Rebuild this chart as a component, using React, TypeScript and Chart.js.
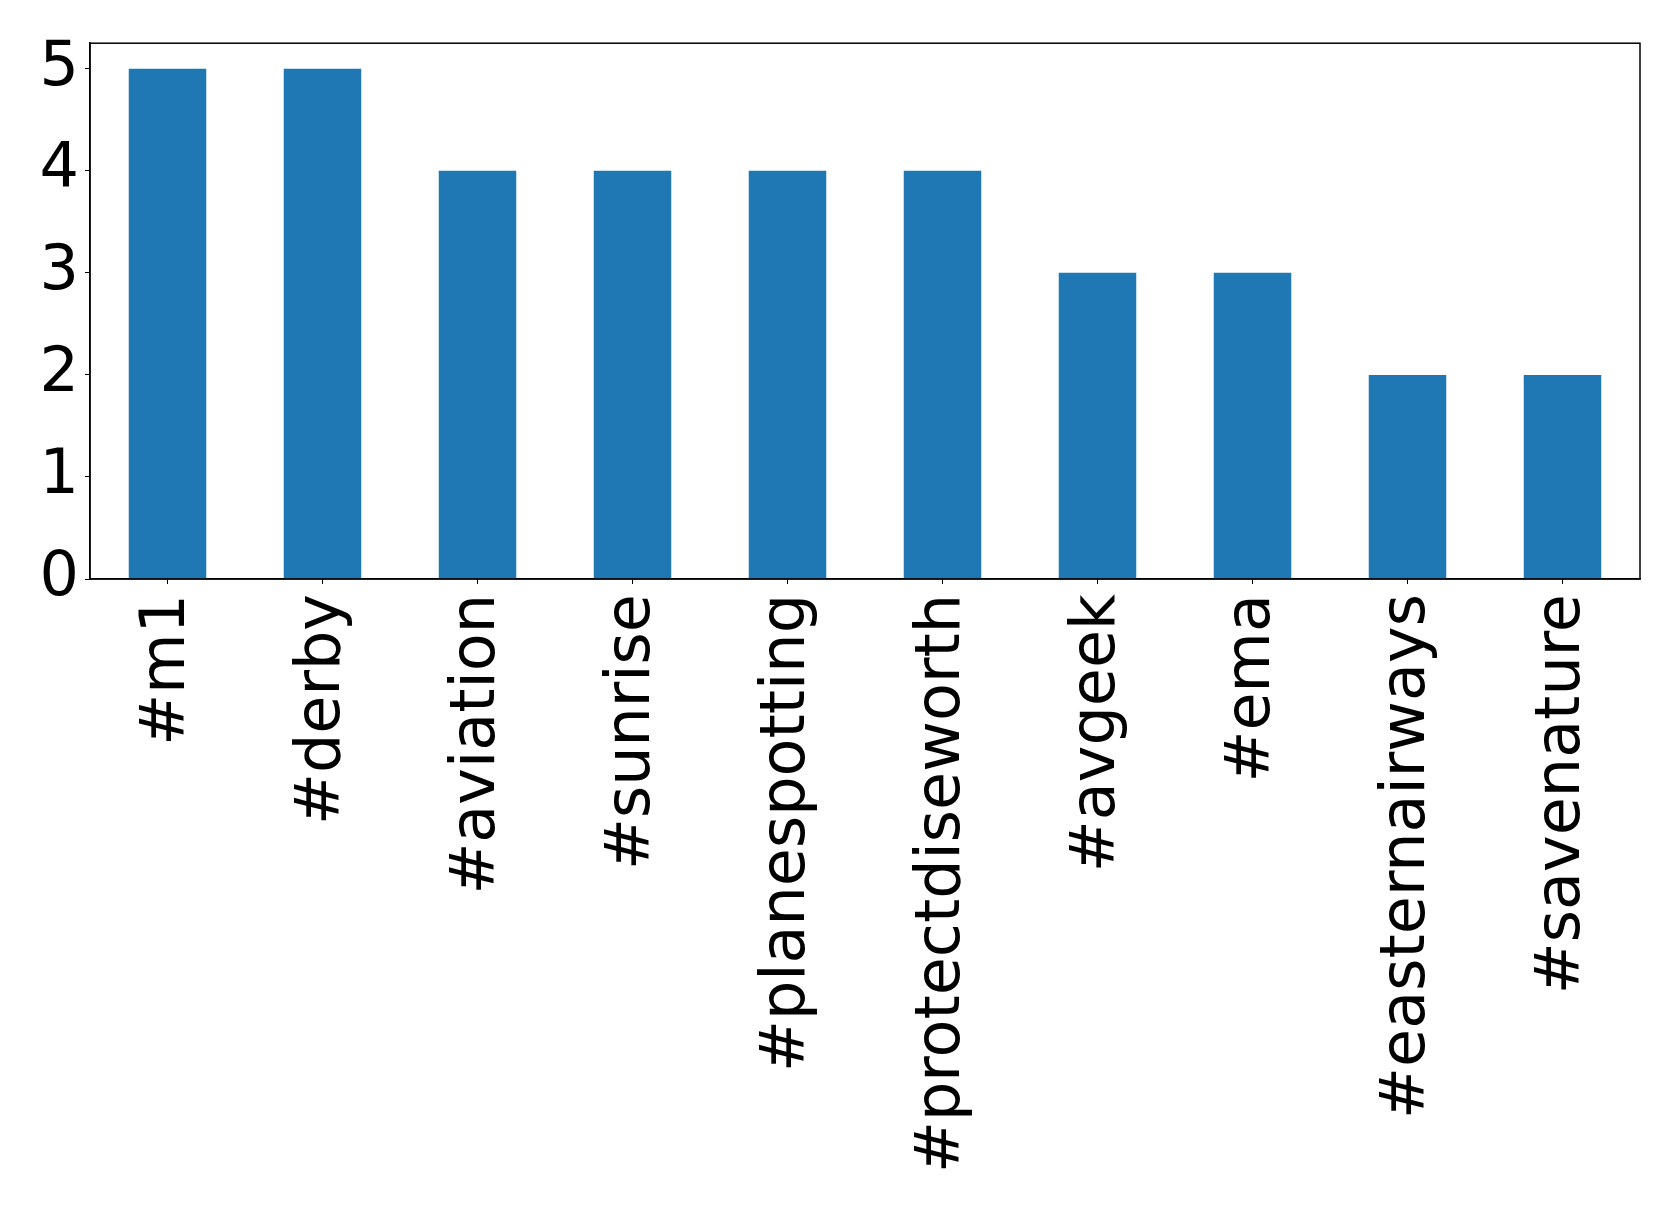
import React, { useEffect, useRef } from "react";
import { Chart, registerables } from "chart.js";

Chart.register(...registerables);

const categories = [
  "#m1",
  "#derby",
  "#aviation",
  "#sunrise",
  "#planespotting",
  "#protectdiseworth",
  "#avgeek",
  "#ema",
  "#easternairways",
  "#savenature",
];
const counts = [5, 5, 4, 4, 4, 4, 3, 3, 2, 2];
const yTicks = [0, 1, 2, 3, 4, 5];

const W = 1679;
const H = 1212;

const framePlugin = {
  id: "frame",
  afterDraw(chart: any) {
    const { ctx, chartArea } = chart;
    ctx.save();
    ctx.strokeStyle = "#000";
    ctx.lineWidth = 1.5;
    ctx.strokeRect(chartArea.left, chartArea.top, chartArea.right - chartArea.left, chartArea.bottom - chartArea.top);
    ctx.restore();
  },
};

export default function App() {
  const ref = useRef<HTMLCanvasElement | null>(null);
  useEffect(() => {
    if (!ref.current) return;
    const font = { family: "'DejaVu Sans', sans-serif", size: 62 };
    const chart = new Chart(ref.current, {
      type: "bar",
      data: {
        labels: categories,
        datasets: [
          {
            data: counts,
            backgroundColor: "#1f77b4",
            categoryPercentage: 1,
            barPercentage: 0.5,
          },
        ],
      },
      options: {
        responsive: false,
        animation: false,
        devicePixelRatio: 1,
        layout: { padding: { top: 40, right: 39, left: 0, bottom: 0 } },
        plugins: { legend: { display: false }, tooltip: { enabled: false } },
        scales: {
          x: {
            offset: true,
            grid: { display: true, drawOnChartArea: false, offset: false, tickLength: 5, tickColor: "#000" },
            border: { display: true, color: "#000", width: 1.5 },
            ticks: {
              font,
              color: "#000",
              minRotation: 90,
              maxRotation: 90,
              autoSkip: false,
              padding: 10,
            },
            afterFit(scale: any) {
              scale.height = H - 579;
            },
          },
          y: {
            min: 0,
            max: 5.25,
            afterBuildTicks(scale: any) {
              scale.ticks = yTicks.map((v) => ({ value: v }));
            },
            grid: { display: true, drawOnChartArea: false, tickLength: 5, tickColor: "#000" },
            border: { display: true, color: "#000", width: 1.5 },
            ticks: { font, color: "#000", padding: 6 },
            afterFit(scale: any) {
              scale.width = 90;
            },
          },
        },
      },
      plugins: [framePlugin],
    });
    return () => chart.destroy();
  }, []);
  return (
    <div style={{ position: "fixed", left: 0, top: 0, width: W, height: H, background: "#fff" }}>
      <canvas ref={ref} width={W} height={H} style={{ width: W, height: H, display: "block" }} />
    </div>
  );
}
